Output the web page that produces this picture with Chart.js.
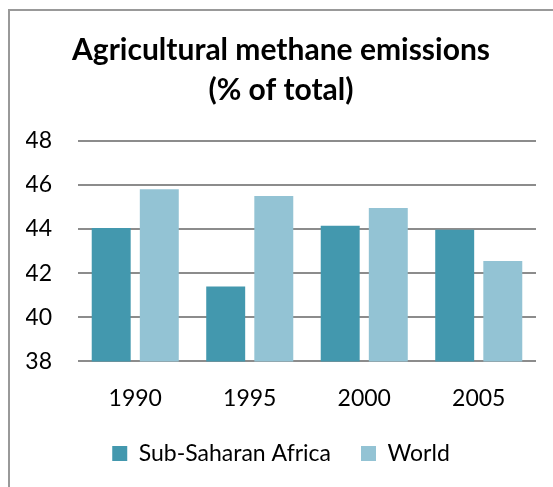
<!DOCTYPE html>
<html>
<head>
<meta charset="utf-8">
<script src="https://cdn.jsdelivr.net/npm/chart.js@4"></script>
<style>
  html, body { margin: 0; padding: 0; background: #fff; overflow: hidden; }
  #wrap { position: relative; width: 553px; height: 487px; }
  #frame { position: absolute; left: 8px; top: 9px; width: 700px; height: 700px; border: 2px solid #999; box-sizing: border-box; }
  #chart { position: absolute; left: 0; top: 0; }
</style>
</head>
<body>
<div id="wrap">
  <div id="frame"></div>
  <canvas id="chart" width="553" height="487"></canvas>
</div>
<script>
// Agricultural methane emissions (% of total)
const years = ['1990', '1995', '2000', '2005'];
const subSaharan = [44.05, 41.4, 44.15, 43.97];
const world = [45.8, 45.5, 44.95, 42.55];
const yTicks = [38, 40, 42, 44, 46, 48];

const fontFamily = 'Lato, "Open Sans", sans-serif';

new Chart(document.getElementById('chart'), {
    type: 'bar',
    data: {
        labels: years,
        datasets: [
            {
                label: 'Sub-Saharan Africa',
                data: subSaharan,
                backgroundColor: '#4398ae'
            },
            {
                label: 'World',
                data: world,
                backgroundColor: '#93c3d4'
            }
        ]
    },
    options: {
        responsive: false,
        animation: false,
        layout: { padding: { left: 26, right: 17, top: 30, bottom: 12 } },
        datasets: {
            bar: { barPercentage: 0.81, categoryPercentage: 0.84 }
        },
        plugins: {
            title: {
                display: true,
                text: ['Agricultural methane emissions', '(% of total)'],
                color: '#000',
                font: { family: fontFamily, size: 30, weight: 'bold', lineHeight: 1.33 },
                padding: { top: 0, bottom: 31 }
            },
            legend: {
                position: 'bottom',
                labels: {
                    color: '#000',
                    boxWidth: 15,
                    boxHeight: 15,
                    padding: 30,
                    font: { family: fontFamily, size: 23 }
                }
            },
            tooltip: { enabled: false }
        },
        scales: {
            x: {
                afterFit: scale => { scale.height -= 15; },
                grid: { display: false },
                border: { display: false },
                ticks: { color: '#000', padding: 15, font: { family: fontFamily, size: 23 } }
            },
            y: {
                min: 38,
                max: 48,
                afterFit: scale => { scale.width = 52; },
                afterBuildTicks: scale => { scale.ticks = yTicks.map(v => ({ value: v })); },
                grid: { color: '#8c8c8c', lineWidth: 2, drawTicks: false },
                border: { display: false },
                ticks: { color: '#000', padding: 26, font: { family: fontFamily, size: 23 } }
            }
        }
    }
});
</script>
</body>
</html>
